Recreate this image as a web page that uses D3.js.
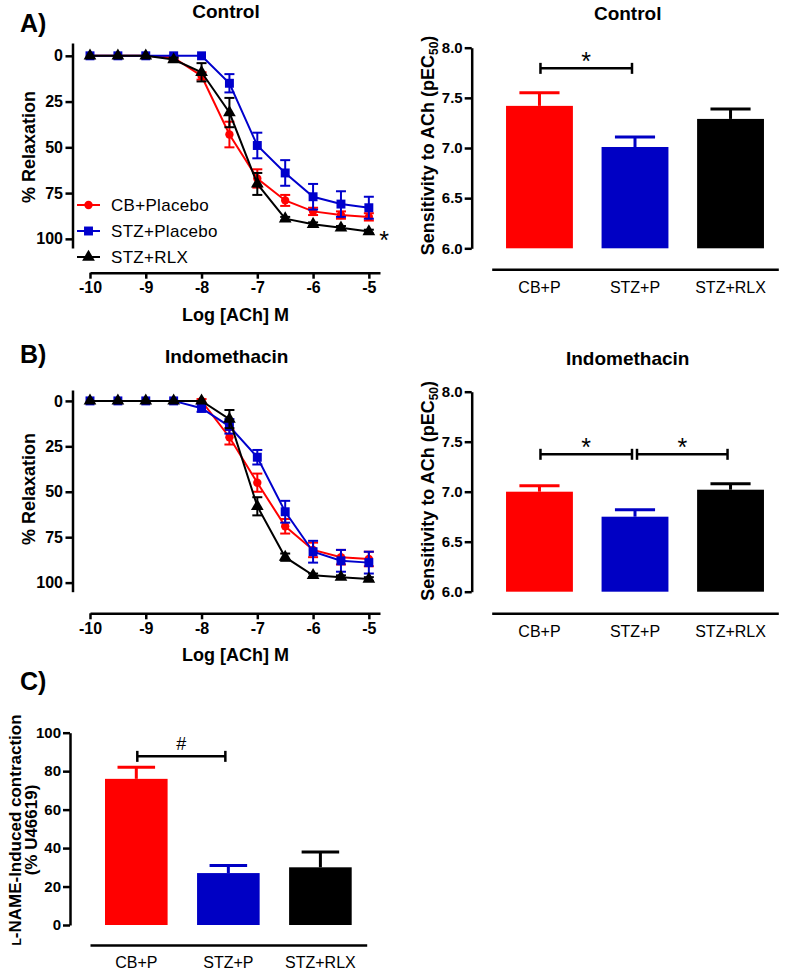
<!DOCTYPE html>
<html>
<head>
<meta charset="utf-8">
<script src="https://cdn.jsdelivr.net/npm/d3@7"></script>
<style>
  body { margin: 0; background: #fff; }
  svg { display: block; font-family: "Liberation Sans", Arial, sans-serif; }
</style>
</head>
<body>
<svg id="fig" width="787" height="976"></svg>
<script>
'use strict'

// log [ACh] M
const logConc = [-10, -9.5, -9, -8.5, -8, -7.5, -7, -6.5, -6, -5.5, -5];
const logTicks = [-10, -9, -8, -7, -6, -5];
const relaxTicks = [0, 25, 50, 75, 100];
const curveGroups = ['CB+Placebo', 'STZ+Placebo', 'STZ+RLX'];

// A) control curves, % relaxation (mean, sem)
const ctrlCB = [0, 0, 0, 1, 11, 43, 67, 79, 85, 87, 88];
const ctrlCBErr = [0, 0, 0, 1, 2, 7, 5, 3, 2, 2, 2];
const ctrlSTZ = [0, 0, 0, 0, 0, 15, 49, 64, 77, 81, 83];
const ctrlSTZErr = [0, 0, 0, 0, 0, 5, 7, 7, 7, 7, 6];
const ctrlRLX = [0, 0, 0, 2, 9, 31, 70, 89, 92, 94, 96];
const ctrlRLXErr = [0, 0, 0, 1, 5, 8, 6, 1, 1, 1, 1];

// B) indomethacin curves
const indoCB = [0, 0, 0, 0, 0, 20, 45, 69, 82, 86, 87];
const indoCBErr = [0, 0, 0, 0, 1, 4, 5, 4, 4, 4, 4];
const indoSTZ = [0, 0, 0, 0, 4, 14, 31, 61, 83, 88, 89];
const indoSTZErr = [0, 0, 0, 0, 2, 4, 4, 6, 6, 6, 6];
const indoRLX = [0, 0, 0, 0, 0, 10, 58, 86, 96, 97, 98];
const indoRLXErr = [0, 0, 0, 0, 0, 5, 5, 2, 1, 1, 1];

// bar charts
const barGroups = ['CB+P', 'STZ+P', 'STZ+RLX'];
const pecTicks = [6.0, 6.5, 7.0, 7.5, 8.0];
const pecCtrl = [7.42, 7.01, 7.29];
const pecCtrlErr = [0.13, 0.10, 0.10];
const pecIndo = [7.00, 6.75, 7.02];
const pecIndoErr = [0.06, 0.07, 0.06];
const lnameTicks = [0, 20, 40, 60, 80, 100];
const lname = [76, 27, 30];
const lnameErr = [6, 4, 8];

// significance: [from group, to group, mark]
const ctrlSig = [[0, 1, '*']];
const indoSig = [[0, 1, '*'], [1, 2, '*']];
const lnameSig = [[0, 1, '#']];

const curveColors = ['#ff0000', '#0000cc', '#000000'];
const barColors = ['#ff0000', '#0000c4', '#000000'];
const curveShapes = [d3.symbolCircle, d3.symbolSquare, d3.symbolTriangle];
const shapeSizes = [55, 80, 70];

const svg = d3.select('#fig');

function styleAxis (sel, fontSize) {
  sel.select('.domain').attr('stroke', '#000').attr('stroke-width', 2.5);
  sel.selectAll('.tick line').attr('stroke', '#000').attr('stroke-width', 2.5);
  sel.selectAll('.tick text')
    .attr('fill', '#000')
    .attr('font-size', fontSize)
    .attr('font-weight', 'bold')
    .attr('font-family', '"Liberation Sans", Arial, sans-serif');
}

function label (txt, x, y, size, weight, anchor) {
  return svg.append('text')
    .attr('x', x).attr('y', y)
    .attr('font-size', size)
    .attr('font-weight', weight || 'bold')
    .attr('text-anchor', anchor || 'middle')
    .text(txt);
}

function yLabel (txt, x, y, size) {
  return svg.append('text')
    .attr('transform', 'translate(' + x + ',' + y + ') rotate(-90)')
    .attr('font-size', size)
    .attr('font-weight', 'bold')
    .attr('text-anchor', 'middle')
    .text(txt);
}

function drawCurves (cfg, vals, errs) {
  const x = d3.scaleLinear().domain([-10, -4.8]).range([90, 380]);
  const y = d3.scaleLinear().domain(cfg.yDomain).range([cfg.yTop, cfg.yBot]);

  const xa = svg.append('g')
    .attr('transform', 'translate(0,' + cfg.xAxisY + ')')
    .call(d3.axisBottom(x).tickValues(logTicks).tickFormat(d => String(d))
      .tickSize(6).tickPadding(3).tickSizeOuter(0));
  styleAxis(xa, 16);

  const ya = svg.append('g')
    .attr('transform', 'translate(72.5,0)')
    .call(d3.axisLeft(y).tickValues(relaxTicks).tickFormat(d => String(d))
      .tickSize(7).tickPadding(2.5).tickSizeOuter(0));
  styleAxis(ya, 16);

  const line = d3.line().x(d => x(d.x)).y(d => y(d.v));

  vals.forEach((series, k) => {
    const pts = logConc.map((c, i) => ({ x: c, v: series[i], e: errs[k][i] }));
    const g = svg.append('g');
    g.append('path')
      .datum(pts)
      .attr('d', line)
      .attr('fill', 'none')
      .attr('stroke', curveColors[k])
      .attr('stroke-width', 2);
    const eb = g.selectAll('g.err')
      .data(pts.filter(p => p.e > 0))
      .enter().append('g')
      .attr('stroke', curveColors[k])
      .attr('stroke-width', 2);
    eb.append('line')
      .attr('x1', d => x(d.x)).attr('x2', d => x(d.x))
      .attr('y1', d => y(d.v - d.e)).attr('y2', d => y(d.v + d.e));
    eb.append('line')
      .attr('x1', d => x(d.x) - 5).attr('x2', d => x(d.x) + 5)
      .attr('y1', d => y(d.v - d.e)).attr('y2', d => y(d.v - d.e));
    eb.append('line')
      .attr('x1', d => x(d.x) - 5).attr('x2', d => x(d.x) + 5)
      .attr('y1', d => y(d.v + d.e)).attr('y2', d => y(d.v + d.e));
    g.selectAll('path.pt')
      .data(pts)
      .enter().append('path')
      .attr('class', 'pt')
      .attr('transform', d => 'translate(' + x(d.x) + ',' + y(d.v) + ')')
      .attr('d', d3.symbol().type(curveShapes[k]).size(shapeSizes[k]))
      .attr('fill', curveColors[k]);
  });

  label('Log [ACh] M', 235.5, cfg.xAxisY + 48, 18);
  yLabel('% Relaxation', 35, cfg.yLabelY, 18);
  return { x: x, y: y };
}

function drawBars (cfg, vals, errs, sig) {
  const x = d3.scaleBand().domain(barGroups).range(cfg.xRange)
    .paddingInner(cfg.padIn).paddingOuter(cfg.padOut);
  const y = d3.scaleLinear().domain(cfg.yDomain).range([cfg.yBot, cfg.yTop]);
  const bw = x.bandwidth();

  const xa = svg.append('g')
    .attr('transform', 'translate(0,' + cfg.xAxisY + ')')
    .call(d3.axisBottom(x).tickSize(0).tickPadding(12).tickSizeOuter(0));
  styleAxis(xa, 16);
  xa.selectAll('.tick text').attr('font-weight', 'normal');

  const ya = svg.append('g')
    .attr('transform', 'translate(' + cfg.yAxisX + ',0)')
    .call(d3.axisLeft(y).tickValues(cfg.ticks).tickFormat(d3.format(cfg.fmt))
      .tickSize(7).tickPadding(2).tickSizeOuter(0));
  styleAxis(ya, 15);

  const bars = barGroups.map((b, i) => ({ name: b, v: vals[i], e: errs[i], color: barColors[i] }));

  svg.append('g').selectAll('rect')
    .data(bars)
    .enter().append('rect')
    .attr('x', d => x(d.name))
    .attr('width', bw)
    .attr('y', d => y(d.v))
    .attr('height', d => y(cfg.yDomain[0]) - y(d.v))
    .attr('fill', d => d.color);

  const eb = svg.append('g').selectAll('g')
    .data(bars)
    .enter().append('g')
    .attr('stroke', d => d.color)
    .attr('stroke-width', 3);
  eb.append('line')
    .attr('x1', d => x(d.name) + bw / 2).attr('x2', d => x(d.name) + bw / 2)
    .attr('y1', d => y(d.v)).attr('y2', d => y(d.v + d.e));
  eb.append('line')
    .attr('x1', d => x(d.name) + bw * 0.2).attr('x2', d => x(d.name) + bw * 0.8)
    .attr('y1', d => y(d.v + d.e)).attr('y2', d => y(d.v + d.e));

  // significance brackets
  const sy = y(cfg.sigLevel);
  sig.forEach(s => {
    const x1 = x(barGroups[s[0]]) + bw / 2 + (s[0] === 0 ? 1 : 2);
    const x2 = x(barGroups[s[1]]) + bw / 2 - 3;
    const b = svg.append('g').attr('stroke', '#000').attr('stroke-width', 2.5);
    b.append('line').attr('x1', x1).attr('x2', x2).attr('y1', sy).attr('y2', sy);
    b.append('line').attr('x1', x1).attr('x2', x1).attr('y1', sy - 5.5).attr('y2', sy + 5.5);
    b.append('line').attr('x1', x2).attr('x2', x2).attr('y1', sy - 5.5).attr('y2', sy + 5.5);
    if (s[2] === '*') {
      label('*', (x1 + x2) / 2, sy + 2, 25, 'normal');
    } else {
      label(s[2], (x1 + x2) / 2, sy - 6.5, 18, 'normal');
    }
  });
  return { x: x, y: y };
}

// A) Control
label('A)', 20, 32, 25, 'bold', 'start');
label('Control', 226, 18, 19);
drawCurves({ yDomain: [-7, 105], yTop: 43, yBot: 248, xAxisY: 272.7, yLabelY: 147 },
  [ctrlCB, ctrlSTZ, ctrlRLX], [ctrlCBErr, ctrlSTZErr, ctrlRLXErr]);
label('*', 384, 248.5, 25, 'normal');

// legend
const legend = svg.append('g');
curveGroups.forEach((name, k) => {
  const ly = 205 + k * 26;
  legend.append('line')
    .attr('x1', 77).attr('x2', 100).attr('y1', ly).attr('y2', ly)
    .attr('stroke', curveColors[k]).attr('stroke-width', 2);
  legend.append('path')
    .attr('transform', 'translate(88.5,' + ly + ')')
    .attr('d', d3.symbol().type(curveShapes[k]).size(shapeSizes[k]))
    .attr('fill', curveColors[k]);
  legend.append('text')
    .attr('x', 111).attr('y', ly + 6)
    .attr('font-size', 17)
    .attr('letter-spacing', 0.3)
    .text(name);
});

label('Control', 627.7, 20, 19);
drawBars({ xRange: [491.7, 778.3], padIn: 0.3, padOut: 0.15, yDomain: [6, 8], yTop: 47.7, yBot: 248.3,
  xAxisY: 269.3, yAxisX: 471.7, ticks: pecTicks, fmt: '.1f', sigLevel: 7.794 },
  pecCtrl, pecCtrlErr, ctrlSig);

// B) Indomethacin
label('B)', 20, 363, 25, 'bold', 'start');
label('Indomethacin', 226.7, 363, 19);
drawCurves({ yDomain: [-6, 105], yTop: 390, yBot: 591.7, xAxisY: 613.3, yLabelY: 489 },
  [indoCB, indoSTZ, indoRLX], [indoCBErr, indoSTZErr, indoRLXErr]);

label('Indomethacin', 627.7, 365, 19);
drawBars({ xRange: [491.7, 778.3], padIn: 0.3, padOut: 0.15, yDomain: [6, 8], yTop: 391.7, yBot: 591.7,
  xAxisY: 613.3, yAxisX: 471.7, ticks: pecTicks, fmt: '.1f', sigLevel: 7.374 },
  pecIndo, pecIndoErr, indoSig);

// pEC50 axis titles
[145.5, 490.8].forEach(cy => {
  const t = svg.append('text')
    .attr('transform', 'translate(434,' + cy + ') rotate(-90)')
    .attr('font-size', 18)
    .attr('font-weight', 'bold')
    .attr('text-anchor', 'middle');
  t.append('tspan').text('Sensitivity to ACh (pEC');
  t.append('tspan').attr('font-size', 12).attr('dy', 4).text('50');
  t.append('tspan').attr('dy', -4).text(')');
});

// C) L-NAME
label('C)', 20, 690, 25, 'bold', 'start');
drawBars({ xRange: [90, 366.7], padIn: 0.32, padOut: 0.163, yDomain: [0, 100], yTop: 732.7, yBot: 925,
  xAxisY: 945, yAxisX: 70, ticks: lnameTicks, fmt: 'd', sigLevel: 87.7 },
  lname, lnameErr, lnameSig);

const cl = svg.append('text')
  .attr('transform', 'translate(21,830) rotate(-90)')
  .attr('font-size', 17)
  .attr('font-weight', 'bold')
  .attr('text-anchor', 'middle');
cl.append('tspan').attr('font-size', 12).text('L');
cl.append('tspan').text('-NAME-Induced contraction');
yLabel('(% U46619)', 37, 830, 17);
</script>
</body>
</html>
